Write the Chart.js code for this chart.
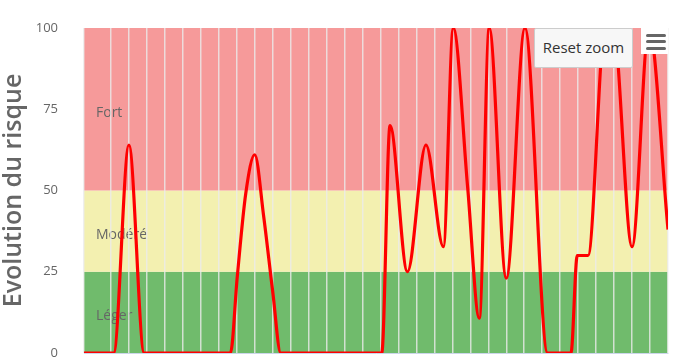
<!DOCTYPE html>
<html>
<head>
<meta charset="utf-8">
<script src="https://cdn.jsdelivr.net/npm/chart.js@4.4.1/dist/chart.umd.min.js"></script>
<style>
  body { margin: 0; background: #fff; font-family: "Open Sans", sans-serif; }
  #wrap { position: relative; width: 690px; height: 360px; }
  #reset {
    position: absolute; left: 534px; top: 28px; width: 99px; height: 40px;
    box-sizing: border-box; background: #f7f7f7; border: 1px solid #cccccc; border-radius: 2px;
    font: 15px "Open Sans", sans-serif; color: #333; text-align: center; line-height: 37px;
  }
  #menu { position: absolute; left: 641px; top: 28px; width: 27px; height: 26px; background: #fff; }
  #menu span { position: absolute; left: 5px; width: 20px; height: 3px; border-radius: 2px; background: #666; }
</style>
</head>
<body>
<div id="wrap">
  <canvas id="risk-chart" width="690" height="360"></canvas>
  <div id="reset">Reset zoom</div>
  <div id="menu"><span style="top:6px"></span><span style="top:12px"></span><span style="top:19px"></span></div>
</div>
<script>
// x position (grid units) and risk value of each point
var days = [-0.5, 1.15, 2.0, 2.85, 7.65, 8.03, 8.5, 9.0, 9.5, 10.0, 10.45,
            16.07, 16.53, 17.5, 18.53, 19.5, 20.05, 20.85, 21.5, 22.05, 23.0, 24.04, 25.3,
            26.6, 26.95, 27.55, 28.5, 28.95, 30.0, 30.94, 32.0];
var risk = [0, 0, 64, 0, 0, 23.5, 49, 61, 42, 19, 0,
            0, 70, 25, 64, 32.7, 100, 51, 10.7, 100, 23, 100, 0,
            0, 30, 30, 100, 100, 32.7, 100, 38];

var yTicks = [0, 25, 50, 75, 100];

// risk bands
var bandFrom = [0, 25, 50];
var bandTo = [25, 50, 100];
var bandNames = ["Léger", "Modéré", "Fort"];
var bandColors = ["#70bb6c", "#f3f0b0", "#f69a9a"];

var bandsPlugin = {
    id: "bands",
    beforeDraw: function(chart) {
        var ctx = chart.ctx;
        var area = chart.chartArea;
        var y = chart.scales.y;
        ctx.save();
        for (var i = 0; i < bandFrom.length; i++) {
            var top = y.getPixelForValue(bandTo[i]);
            var bottom = y.getPixelForValue(bandFrom[i]);
            ctx.fillStyle = bandColors[i];
            ctx.fillRect(area.left, top, area.right - area.left, bottom - top);
            ctx.fillStyle = "#666666";
            ctx.font = "14px 'Open Sans'";
            ctx.textAlign = "left";
            ctx.textBaseline = "middle";
            ctx.fillText(bandNames[i], area.left + 12, (top + bottom) / 2 + 4);
        }
        ctx.restore();
    }
};

var ctx = document.getElementById("risk-chart").getContext("2d");
var riskChart = new Chart(ctx, {
    type: "line",
    data: {
        datasets: [{
            data: days.map(function(d, i) { return {x: d, y: risk[i]}; }),
            borderColor: "#ff0000",
            borderWidth: 3.2,
            pointRadius: 0,
            fill: false,
            cubicInterpolationMode: "monotone"
        }]
    },
    options: {
        responsive: false,
        animation: false,
        layout: { padding: { top: 28, right: 22, bottom: 7, left: 0 } },
        plugins: { legend: { display: false }, tooltip: { enabled: false } },
        scales: {
            x: {
                type: "linear",
                min: -0.5,
                max: 32,
                ticks: { display: false, stepSize: 1 },
                grid: { color: "rgba(235,235,235,0.8)", lineWidth: 1.5, drawTicks: false },
                border: { color: "#ccd6eb", width: 1 },
                afterFit: function(s) { s.height = 0; }
            },
            y: {
                min: 0,
                max: 100,
                afterBuildTicks: function(s) { s.ticks = yTicks.map(function(v) { return {value: v}; }); },
                ticks: { color: "#666666", padding: 18, font: { family: "Open Sans", size: 13 } },
                grid: { display: false },
                border: { display: false },
                title: {
                    display: true,
                    text: "Evolution du risque",
                    color: "#666666",
                    font: { family: "Open Sans", size: 25, weight: "600", lineHeight: 1 },
                    padding: { top: 1, bottom: 0 }
                },
                afterFit: function(s) {
                    s.width = 84;
                    s.paddingTop = 0;
                    s.paddingBottom = 0;
                }
            }
        }
    },
    plugins: [bandsPlugin]
});
</script>
</body>
</html>
